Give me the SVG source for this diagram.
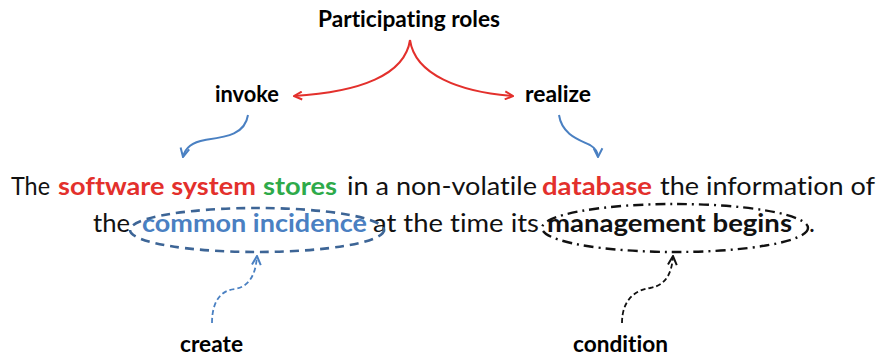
<svg xmlns="http://www.w3.org/2000/svg" width="885" height="356" viewBox="0 0 885 356">
  <style>
    text { font-family: Lato, "Open Sans", "Liberation Sans", sans-serif; font-variant-ligatures: none; }
    .lbl { font-size: 22px; font-weight: bold; fill: #000; text-anchor: middle; }
    .body { font-size: 25px; fill: #111; }
    .b { font-weight: bold; }
    .red { fill: #e3302c; }
    .green { fill: #2eaa4a; }
    .blue { fill: #4a80c2; }
    .role { fill: none; stroke: #e3302c; stroke-width: 2; }
    .flow { fill: none; stroke: #4a80c2; stroke-width: 2; }
    .dflow { fill: none; stroke-width: 1.8; stroke-dasharray: 5 3; }
  </style>
  <defs>
    <marker id="headRed" viewBox="0 0 10 10" refX="9" refY="5" markerWidth="10" markerHeight="10" markerUnits="userSpaceOnUse" orient="auto">
      <path d="M1,1 L9,5 L1,9" fill="none" stroke="#e3302c" stroke-width="2"/>
    </marker>
    <marker id="headBlue" viewBox="0 0 10 10" refX="9" refY="5" markerWidth="11" markerHeight="11" markerUnits="userSpaceOnUse" orient="auto">
      <path d="M1,1 L9,5 L1,9" fill="none" stroke="#4a80c2" stroke-width="1.8"/>
    </marker>
    <marker id="headBlack" viewBox="0 0 10 10" refX="9" refY="5" markerWidth="11" markerHeight="11" markerUnits="userSpaceOnUse" orient="auto">
      <path d="M1,1 L9,5 L1,9" fill="none" stroke="#111" stroke-width="1.8"/>
    </marker>
  </defs>

  <!-- labels -->
  <g id="participating-roles"><text class="lbl" x="409" y="27" textLength="182" lengthAdjust="spacingAndGlyphs">Participating roles</text></g>
  <g id="invoke"><text class="lbl" x="247" y="102" textLength="64" lengthAdjust="spacingAndGlyphs">invoke</text></g>
  <g id="realize"><text class="lbl" x="558" y="102" textLength="66" lengthAdjust="spacingAndGlyphs">realize</text></g>
  <g id="create"><text class="lbl" x="211.5" y="352" textLength="63" lengthAdjust="spacingAndGlyphs">create</text></g>
  <g id="condition"><text class="lbl" x="620.5" y="352" textLength="95" lengthAdjust="spacingAndGlyphs">condition</text></g>

  <!-- sentence -->
  <g id="sentence" class="body">
    <text class="body" x="11" y="195" textLength="39" lengthAdjust="spacingAndGlyphs">The</text>
    <text class="body b red" x="58" y="195" textLength="198" lengthAdjust="spacingAndGlyphs">software system</text>
    <text class="body b green" x="263" y="195" textLength="74" lengthAdjust="spacingAndGlyphs">stores</text>
    <text class="body" x="347" y="195" textLength="190" lengthAdjust="spacingAndGlyphs">in a non-volatile</text>
    <text class="body b red" x="542" y="195" textLength="110" lengthAdjust="spacingAndGlyphs">database</text>
    <text class="body" x="660" y="195" textLength="215" lengthAdjust="spacingAndGlyphs">the information of</text>

    <text class="body" x="93" y="232" textLength="37" lengthAdjust="spacingAndGlyphs">the</text>
    <text class="body b blue" x="142" y="232" textLength="225" lengthAdjust="spacingAndGlyphs">common incidence</text>
    <text class="body" x="373" y="232" textLength="166" lengthAdjust="spacingAndGlyphs">at the time its</text>
    <text class="body b" x="547" y="232" textLength="245" lengthAdjust="spacingAndGlyphs">management begins</text>
    <text class="body" x="809" y="232">.</text>
  </g>

  <!-- highlight ellipses -->
  <g id="common-incidence-ring">
    <ellipse cx="257" cy="230" rx="127" ry="22" fill="none" stroke="#3d6596" stroke-width="2.6" stroke-dasharray="9 6"/>
  </g>
  <g id="management-begins-ring">
    <ellipse cx="675" cy="228" rx="133" ry="24" fill="none" stroke="#111" stroke-width="2.4" stroke-dasharray="10 5 2 5"/>
  </g>

  <!-- connectors -->
  <g id="connectors">
    <path class="role" d="M410,40 C405,75 360,92 294,96" marker-end="url(#headRed)"/>
    <path class="role" d="M410,40 C415,75 460,92 513,96" marker-end="url(#headRed)"/>
    <path class="flow" d="M248,115 C245,135 225,137 205,140 C193,142 185,148 183,157" marker-end="url(#headBlue)"/>
    <path class="flow" d="M559,115 C562,135 580,140 590,145 C595,148 598,152 598,157" marker-end="url(#headBlue)"/>
    <path class="dflow" stroke="#4a80c2" d="M212,323 C212,300 222,290 235,289 C252,286 256,270 257,256" marker-end="url(#headBlue)"/>
    <path class="dflow" stroke="#111" d="M622,323 C622,300 635,290 650,288 C668,285 672,270 673,256" marker-end="url(#headBlack)"/>
  </g>
</svg>
